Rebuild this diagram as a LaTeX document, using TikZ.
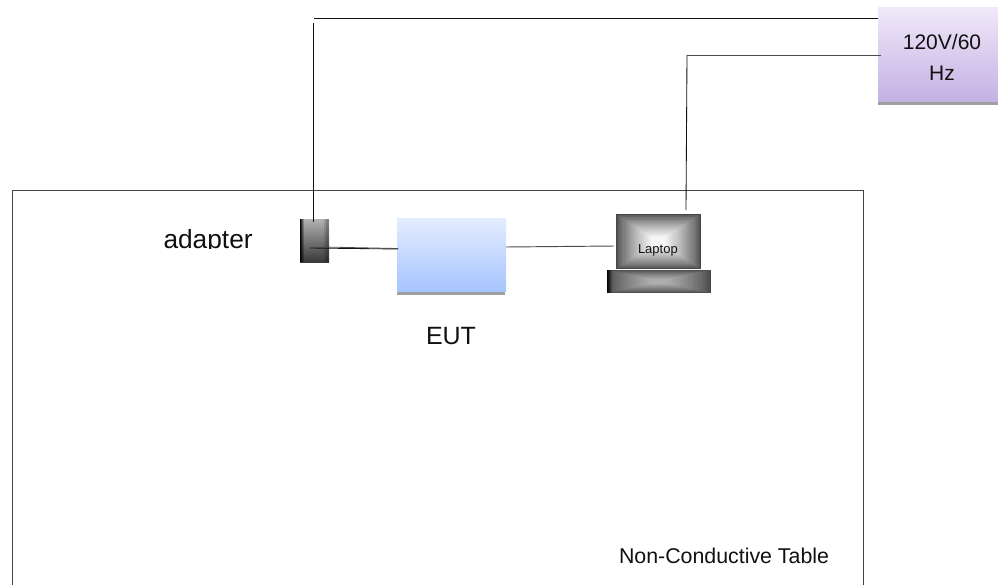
\documentclass[tikz,border=0pt]{standalone}
\usepackage{fontspec}
\setmainfont{Liberation Sans}
\definecolor{linedark}{HTML}{111111}
\definecolor{tableline}{HTML}{444444}
\definecolor{shadowgray}{HTML}{A0A0A0}
\definecolor{eutTop}{HTML}{E4EDFE}
\definecolor{eutBot}{HTML}{A6C4FE}
\definecolor{pwrTop}{HTML}{F0E9F9}
\definecolor{pwrBot}{HTML}{C4B1E4}
\definecolor{txt}{HTML}{111111}
\tikzset{
  box/.style={rectangle,inner sep=0pt,outer sep=0pt,draw=none},
  label/.style={inner sep=0pt,outer sep=0pt,text=txt,anchor=base west},
  wire/.style={draw=linedark,line width=0.85pt},
  softwire/.style={draw=black!70,line width=0.95pt},
  shadowbar/.style={fill=shadowgray,draw=none},
}
% nested-rectangle shading: x0,y0,x1,y1,outer grey %,inner grey %
\newcommand{\rectglow}[6]{%
  \foreach \k in {0,...,39}{%
    \pgfmathsetmacro{\t}{\k/40}%
    \pgfmathsetmacro{\e}{min(1,1.15*\t^0.75)}%
    \pgfmathsetmacro{\g}{#5+(#6-#5)*\e}%
    \pgfmathsetmacro{\hx}{(#3-#1)/2*\t}%
    \pgfmathsetmacro{\hy}{(#4-#2)/2*\t}%
    \fill[black!\g!white] (#1+\hx,#2+\hy) rectangle (#3-\hx,#4-\hy);%
  }%
}
% fading dark strip from the left edge: x,y0,y1,number of px
\newcommand{\blackedge}[4]{%
  \foreach \k in {1,...,#4}{%
    \pgfmathsetmacro{\a}{0.95*(1-(\k-1)/#4)}%
    \fill[black,opacity=\a] (#1+\k-1,#2) rectangle (#1+\k,#3);%
  }%
}
\begin{document}
\begin{tikzpicture}[x=1pt,y=-1pt]
\useasboundingbox (0,0) rectangle (998,584);
\fill[white] (0,0) rectangle (998,584);

% table
\node[box,draw=tableline,line width=1pt,minimum width=851pt,minimum height=420pt] (table) at (437.5,400) {};

% power box
\fill[shadowbar] (878,101) rectangle (998,105);
\node[box,top color=pwrTop,bottom color=pwrBot,minimum width=120pt,minimum height=94pt] (power) at (938,54) {};
\node[inner sep=0pt,outer sep=0pt,text=txt,font=\fontsize{21}{31}\selectfont,align=center] (powerlabel) at (942,57) {120V/60\\Hz};

% EUT
\fill[shadowbar] (397,291) rectangle (505,295);
\node[box,top color=eutTop,bottom color=eutBot,minimum width=109pt,minimum height=73pt] (eut) at (451.5,254.5) {};
\node[label,font=\fontsize{25}{30}\selectfont] (eutlabel) at (426,344) {EUT};

% adapter
\node[box,top color=black!30,bottom color=black!78,minimum width=29pt,minimum height=43pt] (adapter) at (314.5,240.5) {};
\blackedge{300}{219}{262}{4}
\fill[black,opacity=.12] (324,219) rectangle (329,262);
\fill[black,opacity=.15] (326,219) rectangle (329,262);
\begin{scope}
\clip (150,225) rectangle (270,248.6);
\node[label,font=\fontsize{26.3}{30}\selectfont] (adapterlabel) at (163.5,248) {adapter};
\end{scope}

% laptop
\node[box,minimum width=85pt,minimum height=55pt] (screen) at (658.5,241.5) {};
\rectglow{616}{214}{701}{269}{72}{4}
\node[box,minimum width=104pt,minimum height=23pt] (base) at (659,281.5) {};
\rectglow{607}{270}{711}{293}{72}{32}
\blackedge{607}{270}{293}{5}
\node[label,font=\fontsize{13}{15}\selectfont] (laptoplabel) at (638,253) {Laptop};

\node[label,font=\fontsize{21.35}{25}\selectfont] (tablelabel) at (619,563) {Non-Conductive Table};

% connector ends
\coordinate (adTop) at (313,222);
\coordinate (adRiseEnd) at (313,23);
\coordinate (topStart) at (314,18);
\coordinate (topEnd) at (878,18);
\coordinate (adIn) at (310,248);
\coordinate (adIn2) at (323,247);
\coordinate (eutInA) at (398,249);
\coordinate (eutInB) at (398,248.5);
\coordinate (eutOut) at (506,247);
\coordinate (lapIn) at (614,246);
\coordinate (lapTop) at (686,210);
\coordinate (lapCorner) at (687,55);
\coordinate (pwrIn) at (881,55);

\draw[wire] (adTop) -- (adRiseEnd);
\draw[wire] (topStart) -- (topEnd);
\draw[wire] (adIn) -- (eutInA);
\draw[softwire,line width=0.8pt] (adIn2) -- (eutInB);
\draw[softwire] (eutOut) -- (lapIn);
\draw[wire] (lapTop) -- (lapCorner);
\draw[softwire] (lapCorner) -- (pwrIn);
\end{tikzpicture}
\end{document}
